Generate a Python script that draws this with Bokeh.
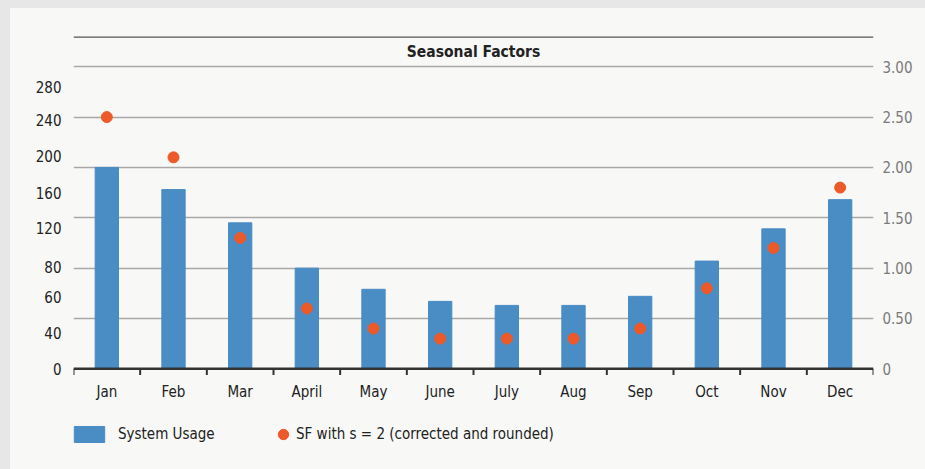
import re
from bokeh.plotting import figure
from bokeh.models import (Range1d, LinearAxis, FixedTicker, NumeralTickFormatter,
                          Span, Label, Legend, LegendItem, ColumnDataSource)
from bokeh.core.properties import value
from bokeh.embed import file_html
from bokeh.resources import INLINE

# ---- data ----
months = ["Jan", "Feb", "Mar", "April", "May", "June", "July", "Aug", "Sep", "Oct", "Nov", "Dec"]
system_usage = [200, 178, 145, 100, 79, 67, 63, 63, 72, 107, 139, 168]
seasonal_factor = [2.5, 2.1, 1.3, 0.6, 0.4, 0.3, 0.3, 0.3, 0.4, 0.8, 1.2, 1.8]
left_tick_labels = ["0", "40", "60", "80", "120", "160", "200", "240", "280"]
left_tick_positions = [0, 36, 71, 101, 140, 175, 211, 247, 280]
right_ticks = [0, 0.5, 1.0, 1.5, 2.0, 2.5, 3.0]
grid_ticks = [50, 100, 150, 200, 250, 300]

FONT = "DejaVu Sans Condensed"
BAR_COLOR = "#4a8cc4"
DOT_COLOR = "#ec5a2a"
BG = "#f8f8f7"
PAGE_GRAY = "#e7e7e7"
AXIS_COLOR = "#333333"

x = list(range(len(months)))
bounds = [i - 0.5 for i in range(len(months) + 1)]
src = ColumnDataSource(dict(x=x, usage=system_usage, sf=seasonal_factor, month=months))

Y_LOW, Y_HIGH = -92, 330
p = figure(width=915, height=461, min_border_left=63, min_border_right=52,
           min_border_top=28, min_border_bottom=8,
           x_range=Range1d(-0.5, 11.5), y_range=Range1d(Y_LOW, Y_HIGH),
           output_backend="svg", toolbar_location=None,
           background_fill_color=BG, border_fill_color=BG, outline_line_color=None)
p.margin = (8, 0, 0, 10)
p.extra_y_ranges = {"sf": Range1d(Y_LOW / 100, Y_HIGH / 100)}

bars = p.vbar(x="x", top="usage", width=0.35, source=src, color=BAR_COLOR)
dots = p.scatter(x="x", y="sf", size=11, source=src, color=DOT_COLOR, y_range_name="sf")

# grid
p.xgrid.visible = False
p.ygrid.ticker = FixedTicker(ticks=grid_ticks)
p.ygrid.grid_line_color = "#a8a8a8"
p.ygrid.grid_line_width = 1.6

# top rule
p.add_layout(Span(location=Y_HIGH, dimension="width", line_color="#555555", line_width=2.5))

# title inside
p.add_layout(Label(x=5.5, y=315, text="Seasonal Factors", text_align="center",
                   text_baseline="middle", text_font=FONT, text_font_size="15.5px",
                   text_font_style="bold", text_color="#222222"))

# category axis (baseline, boundary ticks, month labels)
p.xaxis.visible = False
p.add_layout(Span(location=0, dimension="width", line_color=AXIS_COLOR, line_width=2.5))
p.segment(x0=bounds, x1=bounds, y0=[0] * len(bounds), y1=[-6] * len(bounds),
          line_color=AXIS_COLOR, line_width=2)
p.text(x="x", y=-23, text="month", source=src, text_align="center", text_baseline="middle",
       text_font=value(FONT), text_font_size=value("15px"), text_color="#222222")

# left axis
ya = p.yaxis[0]
ya.ticker = FixedTicker(ticks=left_tick_positions)
ya.major_label_overrides = {pos: lab for pos, lab in zip(left_tick_positions, left_tick_labels)}
ya.axis_line_color = None
ya.major_tick_line_color = None
ya.minor_tick_line_color = None
ya.major_tick_out = 0
ya.major_tick_in = 0
ya.major_label_text_font = FONT
ya.major_label_text_font_size = "15px"
ya.major_label_text_color = "#222222"
ya.major_label_standoff = 12

# right axis
ra = LinearAxis(y_range_name="sf", ticker=FixedTicker(ticks=right_ticks),
                formatter=NumeralTickFormatter(format="0.00"))
ra.major_label_overrides = {0: "0"}
ra.axis_line_color = None
ra.major_tick_line_color = None
ra.minor_tick_line_color = None
ra.major_tick_out = 0
ra.major_tick_in = 0
ra.major_label_text_font = FONT
ra.major_label_text_font_size = "15px"
ra.major_label_text_color = "#7a7a7a"
ra.major_label_standoff = 9
p.add_layout(ra, "right")

# legends (inside the extended frame, below the category axis)
leg_a = Legend(items=[LegendItem(label="System Usage", renderers=[bars])],
               location=(-3, 17), orientation="horizontal",
               glyph_width=38, glyph_height=20, label_standoff=10,
               padding=0, margin=0, border_line_color=None, background_fill_alpha=0,
               label_text_font=FONT, label_text_font_size="15px", label_text_color="#222222")
leg_b = Legend(items=[LegendItem(label="SF with s = 2 (corrected and rounded)", renderers=[dots])],
               location=(197, 14), orientation="horizontal",
               glyph_width=26, glyph_height=26, label_standoff=0,
               padding=0, margin=0, border_line_color=None, background_fill_alpha=0,
               label_text_font=FONT, label_text_font_size="15px", label_text_color="#222222")
p.add_layout(leg_a)
p.add_layout(leg_b)

html = file_html(p, INLINE)
page_bg = (f"background: linear-gradient({PAGE_GRAY},{PAGE_GRAY}) 0 0/100% 8px no-repeat, "
           f"linear-gradient({PAGE_GRAY},{PAGE_GRAY}) 0 0/10px 100% no-repeat, {BG};")
html = re.sub(r"<html([^>]*)>", lambda m: f'<html{m.group(1)} style="{page_bg}">', html, count=1)
html = html.replace("<body>", f'<body style="{page_bg}">', 1)
open("out.html", "w").write(html)
